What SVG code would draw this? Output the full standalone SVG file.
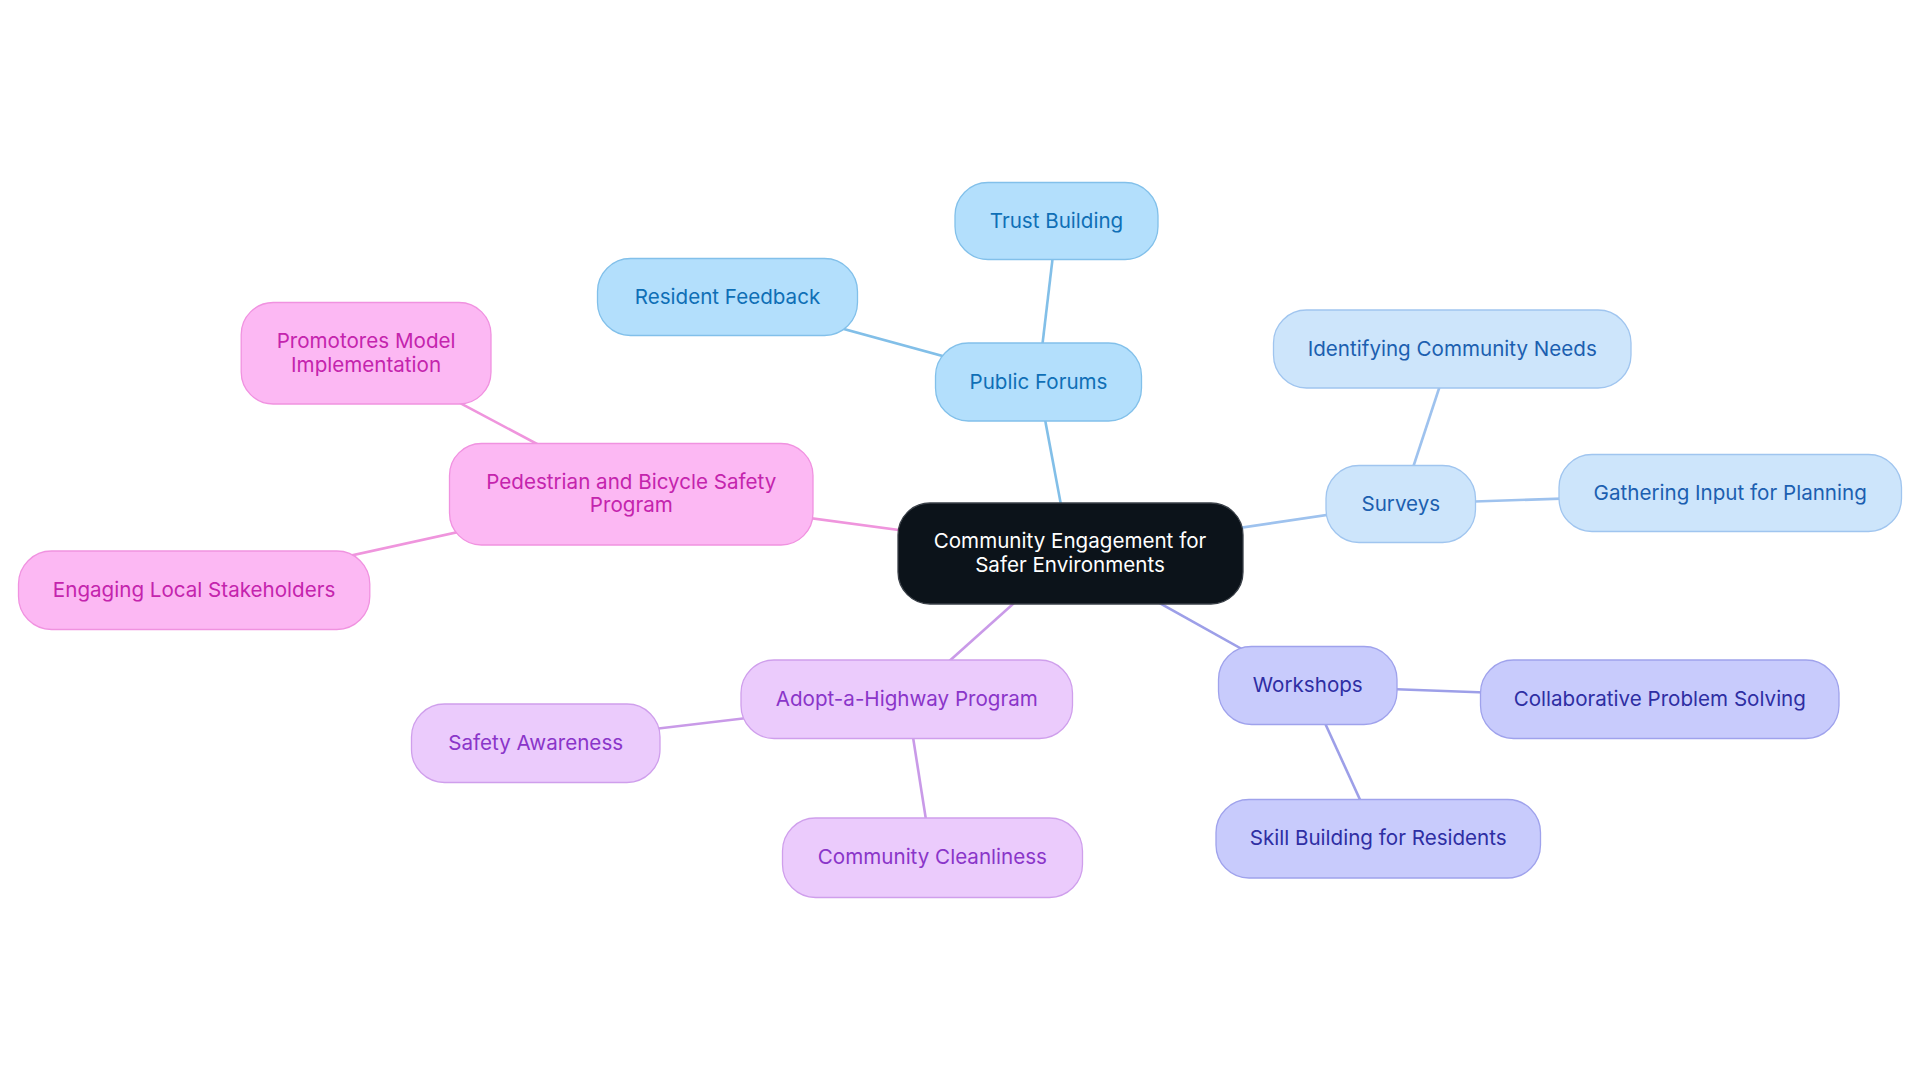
<svg xmlns="http://www.w3.org/2000/svg" width="1920" height="1083" viewBox="0 0 1920 1083">
<style>
text{font-family:Inter,"Open Sans","Liberation Sans",sans-serif;font-size:20.6px;text-anchor:middle;dominant-baseline:central}
.c line{stroke-width:2.6;fill:none}
.b1 rect{fill:#b3dffc;stroke:#82c0ea;stroke-width:1.3}.b1 text{fill:#0f6fb6}
.b2 rect{fill:#cde5fb;stroke:#a0c5ef;stroke-width:1.3}.b2 text{fill:#1c5fb0}
.b3 rect{fill:#c8cbfc;stroke:#9fa2ec;stroke-width:1.3}.b3 text{fill:#2e2ea3}
.b4 rect{fill:#ebcbfc;stroke:#cf9fec;stroke-width:1.3}.b4 text{fill:#8a35c9}
.b5 rect{fill:#fcb8f3;stroke:#f092e0;stroke-width:1.3}.b5 text{fill:#c424ad}
</style>
<rect width="1920" height="1083" fill="#ffffff"/>
<g class="c" id="connectors">
<line x1="1070" y1="553" x2="1038" y2="382" stroke="#82bfe8"/>
<line x1="1038" y1="382" x2="1057" y2="221" stroke="#82bfe8"/>
<line x1="1038" y1="382" x2="727" y2="297" stroke="#82bfe8"/>
<line x1="1070" y1="553" x2="1401" y2="504" stroke="#9ec2ee"/>
<line x1="1401" y1="504" x2="1452" y2="349" stroke="#9ec2ee"/>
<line x1="1401" y1="504" x2="1730" y2="493" stroke="#9ec2ee"/>
<line x1="1070" y1="553" x2="1308" y2="686" stroke="#9d9fe8"/>
<line x1="1308" y1="686" x2="1660" y2="699" stroke="#9d9fe8"/>
<line x1="1308" y1="686" x2="1378" y2="839" stroke="#9d9fe8"/>
<line x1="1070" y1="553" x2="907" y2="699" stroke="#c99ae8"/>
<line x1="907" y1="699" x2="536" y2="743" stroke="#c99ae8"/>
<line x1="907" y1="699" x2="932" y2="858" stroke="#c99ae8"/>
<line x1="1070" y1="553" x2="631" y2="494" stroke="#ef95dd"/>
<line x1="631" y1="494" x2="366" y2="353" stroke="#ef95dd"/>
<line x1="631" y1="494" x2="194" y2="590" stroke="#ef95dd"/>
</g>
<g id="n-center">
<rect x="898" y="503" width="345" height="101" rx="32" fill="#0c131a" stroke="#3a4048" stroke-width="1.3"/>
<text x="1070" y="540.5" fill="#ffffff">Community Engagement for</text>
<text x="1070" y="564" fill="#ffffff">Safer Environments</text>
</g>
<g id="n-public-forums" class="b1"><rect x="935.5" y="343" width="206" height="78" rx="33"/><text x="1038.5" y="381">Public Forums</text></g>
<g id="n-trust-building" class="b1"><rect x="955" y="182.5" width="203" height="77" rx="33"/><text x="1056.5" y="220">Trust Building</text></g>
<g id="n-resident-feedback" class="b1"><rect x="597.5" y="258.5" width="260" height="77" rx="33"/><text x="727.5" y="296">Resident Feedback</text></g>
<g id="n-surveys" class="b2"><rect x="1326" y="465.5" width="149.5" height="77" rx="33"/><text x="1400.8" y="503">Surveys</text></g>
<g id="n-identifying" class="b2"><rect x="1273.5" y="310" width="357.5" height="78" rx="33"/><text x="1452.3" y="348">Identifying Community Needs</text></g>
<g id="n-gathering" class="b2"><rect x="1559" y="454.5" width="342.5" height="77" rx="33"/><text x="1730.2" y="492">Gathering Input for Planning</text></g>
<g id="n-workshops" class="b3"><rect x="1218.5" y="646.5" width="178.5" height="78" rx="33"/><text x="1307.8" y="684.5">Workshops</text></g>
<g id="n-collab" class="b3"><rect x="1480.5" y="660" width="358.5" height="78.5" rx="33"/><text x="1659.8" y="698.2">Collaborative Problem Solving</text></g>
<g id="n-skill" class="b3"><rect x="1216" y="799.5" width="324.5" height="78.5" rx="33"/><text x="1378.2" y="837.8">Skill Building for Residents</text></g>
<g id="n-adopt" class="b4"><rect x="741" y="660" width="331.5" height="78.5" rx="33"/><text x="906.8" y="698.2">Adopt-a-Highway Program</text></g>
<g id="n-safety" class="b4"><rect x="411.5" y="704" width="248.5" height="78.5" rx="33"/><text x="535.7" y="742.3">Safety Awareness</text></g>
<g id="n-clean" class="b4"><rect x="782.5" y="818" width="300" height="79.5" rx="33"/><text x="932.4" y="856.8">Community Cleanliness</text></g>
<g id="n-pedestrian" class="b5"><rect x="449.5" y="443.5" width="363.5" height="101.5" rx="32"/><text x="631.3" y="481.3">Pedestrian and Bicycle Safety</text><text x="631.3" y="504.8">Program</text></g>
<g id="n-promotores" class="b5"><rect x="241.2" y="302.5" width="249.8" height="101.5" rx="32"/><text x="366.1" y="340.5">Promotores Model</text><text x="366.1" y="364">Implementation</text></g>
<g id="n-engaging" class="b5"><rect x="18.5" y="551" width="351.3" height="78.5" rx="33"/><text x="194.1" y="589.2">Engaging Local Stakeholders</text></g>
</svg>
